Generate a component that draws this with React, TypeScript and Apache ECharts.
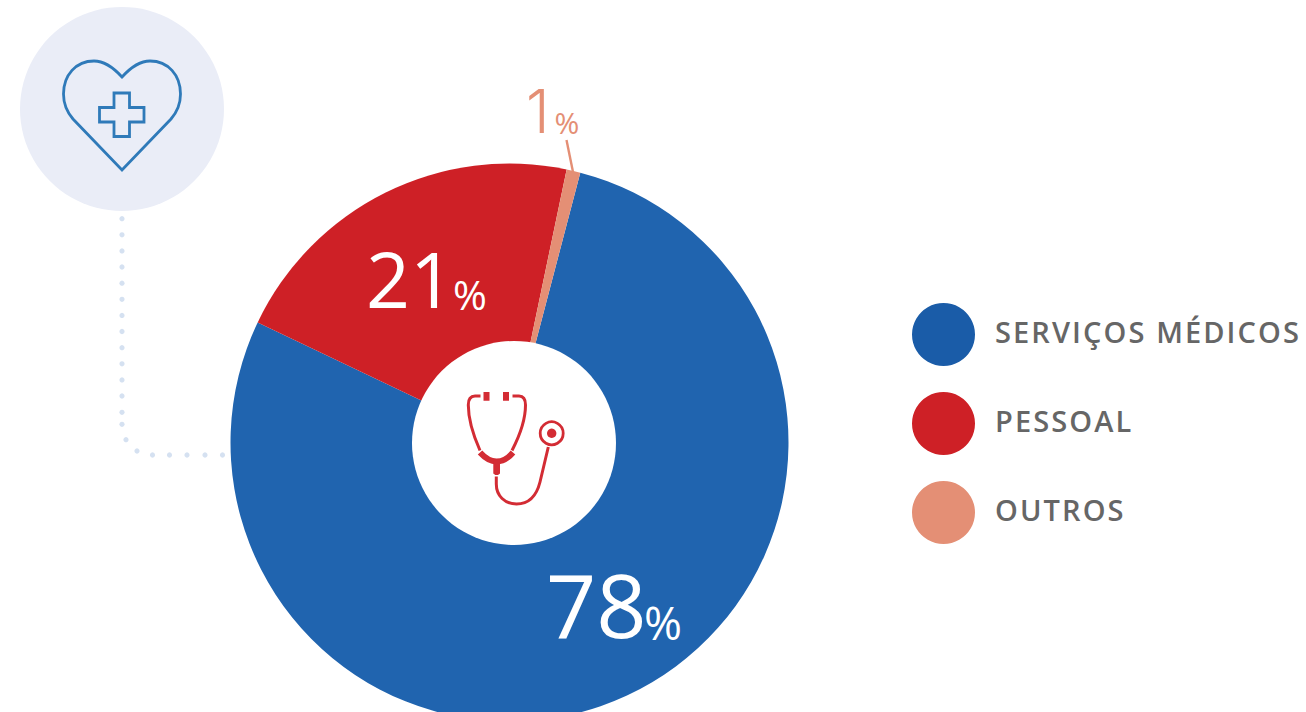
import React, { useEffect, useRef } from "react";
import * as echarts from "echarts";

const categories = ["SERVIÇOS MÉDICOS", "PESSOAL", "OUTROS"];
const sliceValues = [78, 21.2, 0.8];
const labelTexts = ["78", "21", "1"];
const sliceColors = ["#2064AF", "#CE2026", "#E48F75"];
const legendColors = ["#1A5CA8", "#CE2026", "#E48F75"];
const labelColors = ["#FFFFFF", "#FFFFFF", "#E48F75"];
const labelFonts = ["'Open Sans', sans-serif", "'Open Sans', sans-serif", "Inter, sans-serif"];
const labelSizes = [88, 77, 60];
const percentSizes = [46, 41, 30];
const numberWidths = [98, 87, undefined];
const percentLifts = [3, 2, 4];
const percentGaps = [0, 0, 5];
const labelAnchors = [
  [546, 604],
  [366, 278],
  [526, 111],
];

const dotPoints = [
  [122, 218.7], [122, 234.8], [122, 250.9], [122, 267], [122, 283.2], [122, 299.3], [122, 315.4],
  [122, 331.5], [122, 347.7], [122, 363.8], [122, 379.9], [122, 396], [122, 412.3], [122, 424.3],
  [126, 439.7], [137, 451], [152.5, 455], [169.5, 455], [187, 455], [205, 455], [222.5, 455],
];

const HEART =
  "M122 77C112 66 103 61 94 61C76 61 63.5 75 63.5 94C63.5 104 67 112 73 119L122 170L171 119C177 112 180.5 104 180.5 94C180.5 75 168 61 150 61C141 61 132 66 122 77Z";
const CROSS =
  "M114 93H129.5V107.5H144V122H129.5V136.5H114V122H99.5V107.5H114Z";
const TUBES =
  "M480.5 396H475C470 396 468.3 400 468.3 405C468.3 420 474 437 480 450.5M512.5 396H519C524 396 525.5 400 525.5 405C525.5 420 519 437 512 450.5M496.3 476.5V484C496.3 496 505 504 516.5 504C530 504 537 494 540 482L548.3 447";
const YOKE =
  "M480 452.5C486 459 491 461.5 496.5 461.5C502 461.5 507.5 459 513 452.5";
const STEM = "M493.3 460H500V473.5L498 475H495.3L493.3 473.5Z";
const EARS = "M483.5 392H489.5V400.7H483.5ZM503 392H509V400.7H503Z";

echarts.graphic.registerShape("heartShape", echarts.graphic.extendPath(HEART, {}));
echarts.graphic.registerShape("crossShape", echarts.graphic.extendPath(CROSS, {}));
echarts.graphic.registerShape("tubesShape", echarts.graphic.extendPath(TUBES, {}));
echarts.graphic.registerShape("yokeShape", echarts.graphic.extendPath(YOKE, {}));
echarts.graphic.registerShape("stemShape", echarts.graphic.extendPath(STEM, {}));
echarts.graphic.registerShape("earsShape", echarts.graphic.extendPath(EARS, {}));

const NUM_FONT = "'Open Sans', sans-serif";

export default function App() {
  const ref = useRef<HTMLDivElement>(null);
  useEffect(() => {
    document.body.style.margin = "0";
    document.body.style.background = "#fff";
    document.body.style.overflow = "hidden";
    const chart = echarts.init(ref.current!, undefined, { renderer: "svg" });
    const rich: Record<string, any> = {};
    labelTexts.forEach((_, i) => {
      rich["n" + i] = {
        fontFamily: labelFonts[i],
        fontWeight: i === 2 ? 300 : 400,
        fontSize: labelSizes[i],
        color: labelColors[i],
        verticalAlign: "bottom",
        lineHeight: labelSizes[i],
        width: numberWidths[i],
      };
      rich["p" + i] = {
        fontFamily: NUM_FONT,
        fontWeight: 400,
        fontSize: percentSizes[i],
        color: labelColors[i],
        verticalAlign: "bottom",
        lineHeight: labelSizes[i],
        padding: [0, 0, percentLifts[i], percentGaps[i]],
      };
    });
    chart.setOption({
      animation: false,
      backgroundColor: "#ffffff",
      legend: {
        orient: "vertical",
        left: 912,
        top: 303,
        padding: 0,
        icon: "circle",
        itemWidth: 63,
        itemHeight: 63,
        itemGap: 26,
        selectedMode: false,
        formatter: (name: string) => `{t|${name}}`,
        data: categories.map((name, i) => ({
          name,
          itemStyle: { color: legendColors[i] },
        })),
        textStyle: {
          fontFamily: "'Open Sans', sans-serif",
          fontWeight: 600,
          fontSize: 29,
          color: "#666666",
          rich: {
            t: {
              fontFamily: "'Open Sans', sans-serif",
              fontWeight: 600,
              fontSize: 29,
              color: "#666666",
              padding: [0, 0, 6, 15],
            },
          },
        },
      },
      series: [
        {
          type: "pie",
          center: [509.5, 442.5],
          radius: [0, 279],
          startAngle: 75.3,
          clockwise: true,
          avoidLabelOverlap: false,
          itemStyle: { borderWidth: 0 },
          emphasis: { disabled: true },
          labelLine: { show: false },
          labelLayout: (params: any) => ({
            x: labelAnchors[params.dataIndex][0],
            y: labelAnchors[params.dataIndex][1],
            align: "left",
            verticalAlign: "middle",
          }),
          data: categories.map((name, i) => ({
            name,
            value: sliceValues[i],
            itemStyle: { color: sliceColors[i] },
            label: {
              show: true,
              formatter: `{n${i}|${labelTexts[i]}}{p${i}|%}`,
              rich,
            },
          })),
        },
      ],
      graphic: [
        { type: "circle", z: 10, shape: { cx: 122, cy: 109, r: 102 }, style: { fill: "#EAEDF7" } },
        { type: "heartShape", z: 11, x: 0, y: 0, style: { fill: "none", stroke: "#2F7AB9", lineWidth: 2.8 } },
        { type: "crossShape", z: 11, x: 0, y: 0, style: { fill: "none", stroke: "#2F7AB9", lineWidth: 2.8 } },
        ...dotPoints.map(([cx, cy]) => ({
          type: "circle",
          z: 9,
          shape: { cx, cy, r: 2.6 },
          style: { fill: "#D5E1F1" },
        })),
        { type: "circle", z: 10, shape: { cx: 514, cy: 443, r: 102 }, style: { fill: "#FFFFFF" } },
        { type: "tubesShape", z: 11, x: 0, y: 0, style: { fill: "none", stroke: "#D32C34", lineWidth: 3 } },
        { type: "yokeShape", z: 11, x: 0, y: 0, style: { fill: "none", stroke: "#D32C34", lineWidth: 6 } },
        { type: "stemShape", z: 11, x: 0, y: 0, style: { fill: "#D32C34" } },
        { type: "earsShape", z: 11, x: 0, y: 0, style: { fill: "#D32C34" } },
        { type: "circle", z: 11, shape: { cx: 551.7, cy: 433.3, r: 11.5 }, style: { fill: "none", stroke: "#D32C34", lineWidth: 2.8 } },
        { type: "circle", z: 11, shape: { cx: 551.7, cy: 433.3, r: 4.7 }, style: { fill: "#D32C34" } },
        { type: "line", z: 11, shape: { x1: 566.5, y1: 140, x2: 573, y2: 172 }, style: { stroke: "#E48F75", lineWidth: 2.4 } },
      ],
    });
    return () => chart.dispose();
  }, []);
  return (
    <>
      <style>{`text[fill="#666666"],text[style*="#666666"],text[style*="rgb(102"]{letter-spacing:2.1px}`}</style>
      <div ref={ref} style={{ width: 1306, height: 712 }} />
    </>
  );
}
